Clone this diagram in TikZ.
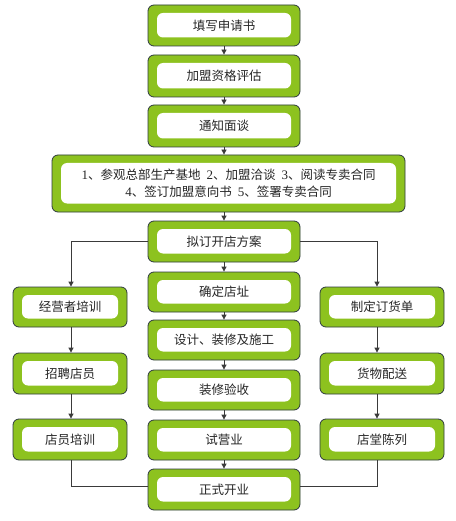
\documentclass[tikz,border=0pt]{standalone}
\usepackage{fontspec}
\newfontfamily\cjk{Noto Sans CJK SC}
\newfontfamily\tnr{Liberation Serif}
\usetikzlibrary{arrows.meta,calc}
\definecolor{gboxgreen}{HTML}{8DC21F}
\definecolor{gboxline}{HTML}{2E3A3F}
\definecolor{conn}{HTML}{3A3A3A}
\newcommand{\nm}[1]{{\tnr\fontsize{13}{17}\selectfont #1}}
\begin{document}
\begin{tikzpicture}[x=1pt,y=-1pt,
  gbox/.style={rectangle, rounded corners=6pt, fill=gboxgreen, draw=gboxline, line width=0.8pt,
    inner sep=0pt, text=black!85, align=center,
    font=\cjk\fontsize{12.5}{17}\selectfont,
    path picture={\fill[white] ([shift={(9pt,-8pt)}]path picture bounding box.north west) rectangle ([shift={(-9pt,8.5pt)}]path picture bounding box.south east);}},
  arr/.style={draw=conn, line width=0.8pt, -{Triangle[width=5pt,length=5pt]}},
  ln/.style={draw=conn, line width=0.8pt}]
\useasboundingbox (0,0) rectangle (455,521);
% center column
\node[gbox, minimum width=152pt, minimum height=41pt] (b1) at (224,25.5) {填写申请书};
\node[gbox, minimum width=152pt, minimum height=42pt] (b2) at (224,76) {加盟资格评估};
\node[gbox, minimum width=152pt, minimum height=42pt] (b3) at (224,126) {通知面谈};
\node[gbox, minimum width=353pt, minimum height=57pt] (b4) at (228.5,183.5) {\nm{1}、参观总部生产基地\hspace{6pt}\nm{2}、加盟洽谈\hspace{6pt}\nm{3}、阅读专卖合同\\\nm{4}、签订加盟意向书\hspace{6pt}\nm{5}、签署专卖合同};
\node[gbox, minimum width=152pt, minimum height=41pt] (b5) at (224,241.5) {拟订开店方案};
\node[gbox, minimum width=152pt, minimum height=40pt] (c1) at (224,292) {确定店址};
\node[gbox, minimum width=152pt, minimum height=40pt] (c2) at (224,340) {设计、装修及施工};
\node[gbox, minimum width=152pt, minimum height=40pt] (c3) at (224,390) {装修验收};
\node[gbox, minimum width=152pt, minimum height=40pt] (c4) at (224,440) {试营业};
\node[gbox, minimum width=152pt, minimum height=41pt] (c5) at (224,489.5) {正式开业};
% left column
\node[gbox, minimum width=114pt, minimum height=40pt] (l1) at (70,307) {经营者培训};
\node[gbox, minimum width=114pt, minimum height=41pt] (l2) at (70,373.5) {招聘店员};
\node[gbox, minimum width=114pt, minimum height=41pt] (l3) at (70,439.5) {店员培训};
% right column
\node[gbox, minimum width=124pt, minimum height=40pt] (r1) at (382,307) {制定订货单};
\node[gbox, minimum width=124pt, minimum height=41pt] (r2) at (382,373.5) {货物配送};
\node[gbox, minimum width=124pt, minimum height=41pt] (r3) at (382,439.5) {店堂陈列};
% center arrows
\draw[arr] (b1) -- (b2);
\draw[arr] (b2) -- (b3);
\draw[arr] (b3.south) -- (b3.south |- b4.north);
\draw[arr] (b4.south -| b5.north) -- (b5.north);
\draw[arr] (b5) -- (c1);
\draw[arr] (c1) -- (c2);
\draw[arr] (c2) -- (c3);
\draw[arr] (c3) -- (c4);
\draw[arr] (c4) -- (c5);
% branches
\draw[arr] (b5.west) -| ([xshift=1pt]l1.north);
\draw[arr] (b5.east) -| ([xshift=-5pt]r1.north);
\draw[arr] ([xshift=1pt]l1.south) -- ([xshift=1pt]l2.north);
\draw[arr] ([xshift=1pt]l2.south) -- ([xshift=1pt]l3.north);
\draw[arr] ([xshift=-5pt]r1.south) -- ([xshift=-5pt]r2.north);
\draw[arr] ([xshift=-5pt]r2.south) -- ([xshift=-5pt]r3.north);
\draw[ln] ([xshift=1pt]l3.south) |- ([yshift=3.5pt]c5.west);
\draw[ln] ([xshift=-5pt]r3.south) |- ([yshift=3.5pt]c5.east);
\end{tikzpicture}
\end{document}
